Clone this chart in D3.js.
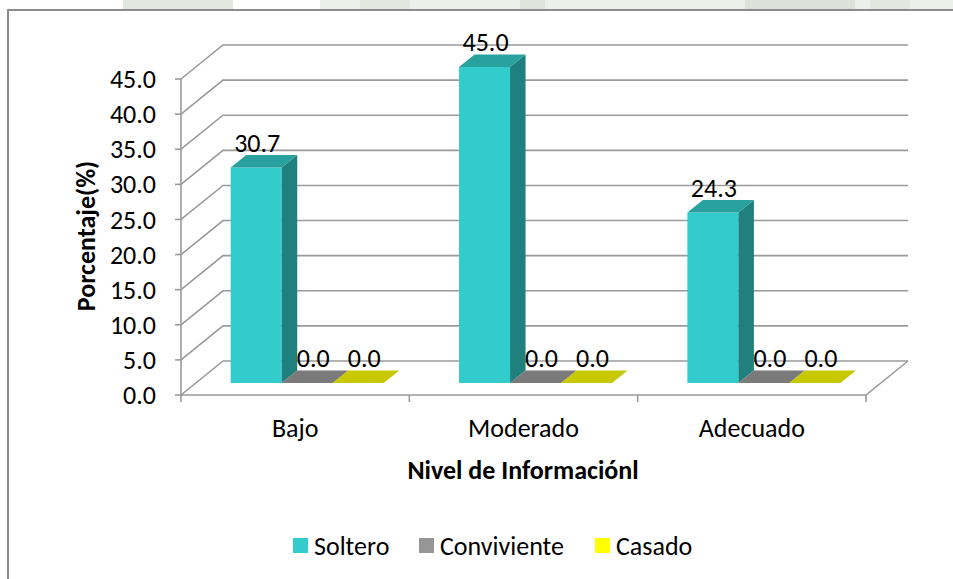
<!DOCTYPE html>
<html>
<head>
<meta charset="utf-8">
<script src="https://cdn.jsdelivr.net/npm/d3@7"></script>
<style>
  body { margin: 0; background: #fff; }
  svg { display: block; font-family: Carlito, Calibri, Lato, sans-serif; }
</style>
</head>
<body>
<div id="vis"></div>
<script>
// data
let categories = ['Bajo', 'Moderado', 'Adecuado'];
let series = ['Soltero', 'Conviviente', 'Casado'];
let soltero = [30.7, 45.0, 24.3];
let conviviente = [0.0, 0.0, 0.0];
let casado = [0.0, 0.0, 0.0];
let yTicks = [0, 5, 10, 15, 20, 25, 30, 35, 40, 45];

let values = [soltero, conviviente, casado];
let colors = {
    front: ['#33CCCC', '#969696', '#FFFF00'],
    top: ['#29A19E', '#7A7A7A', '#C8C800'],
    side: ['#1F807D', '#666666', '#A8A800'],
    legend: ['#33CCCC', '#969696', '#FFFF00']
};

let width = 953, height = 579;
let depthX = 42, depthY = 34; // floor depth offset
let zFront = 0.35, zBack = 0.72; // bar position in depth
let fs = 26;

let svg = d3.select('#vis')
    .append('svg')
    .attr('width', width)
    .attr('height', height);

// faint watermark band above the frame
let wm = svg.append('g');
wm.append('rect').attr('x', 320).attr('y', 0).attr('width', 633).attr('height', 10).attr('fill', '#EDEFEC');
[[123, 110, '#E1E6DE'], [360, 50, '#E1E6DE'], [520, 25, '#DEE4DB'], [745, 110, '#DCE2D9'], [870, 40, '#E1E6DE']]
    .forEach(d => wm.append('rect').attr('x', d[0]).attr('y', 0).attr('width', d[1]).attr('height', 10).attr('fill', d[2]));

// frame
svg.append('path')
    .attr('d', 'M8,579 L8,10 L953,10')
    .attr('fill', 'none')
    .attr('stroke', '#8C8C8C')
    .attr('stroke-width', 2);

let y = d3.scaleLinear().domain([0, 45]).range([395, 79]);
let x = d3.scaleBand().domain(categories).range([181, 866]).padding(0);
let xs = d3.scaleBand().domain(series).range([35, 188]).padding(0);

function px(xv, z) { return xv + z * depthX; }
function py(v, z) { return y(v) - z * depthY; }

let grid = svg.append('g')
    .attr('fill', 'none')
    .attr('stroke', '#9A9A9A')
    .attr('stroke-width', 1.6);

// back wall + side wall gridlines
yTicks.forEach(t => {
    grid.append('path')
        .attr('d', `M${px(181, 0)},${py(t, 0)} L${px(181, 1)},${py(t, 1)} L${px(866, 1)},${py(t, 1)}`);
});

// floor front and right edges
grid.append('path')
    .attr('d', `M181,${y(0)} L866,${y(0)} L${px(866, 1)},${py(0, 1)}`);

// front vertical axis
grid.append('line').attr('x1', 181).attr('x2', 181).attr('y1', y(45)).attr('y2', y(0));
yTicks.forEach(t => {
    grid.append('line').attr('x1', 175).attr('x2', 181).attr('y1', y(t)).attr('y2', y(t));
});
// category ticks
[181].concat(categories.map(c => x(c) + x.bandwidth())).forEach(xv => {
    grid.append('line').attr('x1', xv).attr('x2', xv).attr('y1', y(0)).attr('y2', y(0) + 7);
});

// y tick labels
svg.append('g').selectAll('text')
    .data(yTicks)
    .join('text')
    .attr('x', 156)
    .attr('y', d => y(d))
    .attr('dy', '0.35em')
    .attr('text-anchor', 'end')
    .attr('font-size', fs)
    .attr('fill', '#000')
    .text(d => d.toFixed(1));

// bars
let bars = svg.append('g');
let labels = [];
categories.forEach((c, ci) => {
    series.forEach((s, si) => {
        let v = values[si][ci];
        let x0 = x(c) + xs(s), x1 = x0 + xs.bandwidth();
        let fx0 = px(x0, zFront), fx1 = px(x1, zFront), bx1 = px(x1, zBack), bx0 = px(x0, zBack);
        let fy0 = py(0, zFront), fyv = py(v, zFront), by0 = py(0, zBack), byv = py(v, zBack);
        if (v > 0) {
            bars.append('polygon')
                .attr('points', [[fx0, fy0], [fx1, fy0], [fx1, fyv], [fx0, fyv]].join(' '))
                .attr('fill', colors.front[si]);
            bars.append('polygon')
                .attr('points', [[fx1, fy0], [bx1, by0], [bx1, byv], [fx1, fyv]].join(' '))
                .attr('fill', colors.side[si]);
        }
        bars.append('polygon')
            .attr('points', [[fx0, fyv], [fx1, fyv], [bx1, byv], [bx0, byv]].join(' '))
            .attr('fill', colors.top[si]);
        labels.push({ x: (fx0 + fx1) / 2 + (v > 0 ? 1 : 6), y: fyv - 25, v: v });
    });
});

svg.append('g').selectAll('text')
    .data(labels)
    .join('text')
    .attr('x', d => d.x)
    .attr('y', d => d.y)
    .attr('dy', '0.35em')
    .attr('text-anchor', 'middle')
    .attr('font-size', fs)
    .attr('fill', '#000')
    .text(d => d.v.toFixed(1));

// category labels
svg.append('g').selectAll('text')
    .data(categories)
    .join('text')
    .attr('x', d => x(d) + x.bandwidth() / 2)
    .attr('y', 428)
    .attr('dy', '0.35em')
    .attr('text-anchor', 'middle')
    .attr('font-size', fs)
    .text(d => d);

// axis titles
svg.append('text')
    .attr('x', 523)
    .attr('y', 470)
    .attr('dy', '0.35em')
    .attr('text-anchor', 'middle')
    .attr('font-size', fs)
    .attr('font-weight', 'bold')
    .text('Nivel de Informaciónl');

svg.append('text')
    .attr('transform', 'translate(86,236) rotate(-90)')
    .attr('dy', '0.35em')
    .attr('text-anchor', 'middle')
    .attr('font-size', fs)
    .attr('font-weight', 'bold')
    .text('Porcentaje(%)');

// legend
let legendX = [293, 419, 595];
let legend = svg.append('g');
series.forEach((s, i) => {
    legend.append('rect')
        .attr('x', legendX[i]).attr('y', 538)
        .attr('width', 15).attr('height', 15)
        .attr('fill', colors.legend[i]);
    legend.append('text')
        .attr('x', legendX[i] + 21)
        .attr('y', 546)
        .attr('dy', '0.35em')
        .attr('font-size', fs)
        .text(s);
});
</script>
</body>
</html>
